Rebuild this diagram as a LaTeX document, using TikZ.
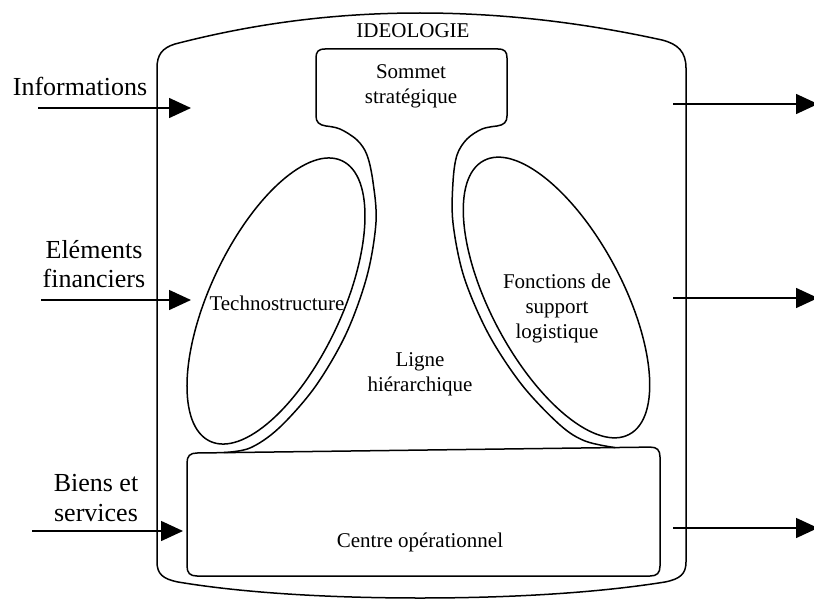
\documentclass[tikz,border=0pt]{standalone}
\usepackage{fontspec}
\setmainfont{Liberation Serif}
\usetikzlibrary{arrows.meta}
\begin{document}
\begin{tikzpicture}[x=1pt,y=-1pt,
  outline/.style={line width=1.5pt, line join=round, line cap=round},
  flow/.style={line width=1.5pt, -{Triangle[length=22pt,width=20pt]}},
  intext/.style={font=\fontsize{21}{25}\selectfont, align=center, inner sep=0pt},
  outtext/.style={font=\fontsize{26}{29.5}\selectfont, align=center, inner sep=0pt}]
\useasboundingbox (0,0) rectangle (814,602);
\clip (0,0) rectangle (814,602);

% organisation boundary (ideology)
\draw[outline] (157,562) -- (157,68)
  .. controls (157,55) and (162,48) .. (175,44)
  .. controls (260,22) and (340,13) .. (420,13)
  .. controls (500,13) and (580,22) .. (662,40)
  .. controls (678,44) and (686,52) .. (686,68)
  -- (686,562)
  .. controls (686,574) and (680,579) .. (665,582)
  .. controls (590,594) and (500,598) .. (420,598)
  .. controls (340,598) and (250,594) .. (178,582)
  .. controls (163,579) and (157,574) .. (157,562) -- cycle;

% operating core
\draw[outline] (420,576) -- (197,576)
  .. controls (190,576) and (187,573) .. (187,566)
  -- (187,463) .. controls (187,456) and (190,453) .. (197,453)
  -- (650,447.1) .. controls (657,447) and (660,450) .. (660,457)
  -- (660,566) .. controls (660,573) and (657,576) .. (650,576) -- cycle;

% strategic apex and middle line, wrapping round both staff units
\draw[outline]
  plot[smooth, tension=0.55] coordinates {(224,452.5) (250,448) (279,428)
    (315,387) (346,334) (367,276) (376,222) (373,182) (367,155) (357,140)
    (340,129) (326,126)}
  .. controls (319,125) and (316,122) .. (316,116)
  -- (316,58) .. controls (316,52) and (318,49) .. (325,49)
  -- (498,49) .. controls (505,49) and (507,52) .. (507,58)
  -- (507,116) .. controls (507,122) and (504,125) .. (497,126)
  -- plot[smooth, tension=0.55] coordinates {(497,126) (482,129) (467,139)
    (457,155) (453,182) (453,223) (464,277) (488.5,334) (522,385) (560,425)
    (585,441) (615,447.6)};

% staff units
\coordinate (techC) at (276,301);
\coordinate (suppC) at (556.5,297.5);
\draw[outline, rotate around={64.8:(techC)}] (techC) ellipse [x radius=155, y radius=66];
\draw[outline, rotate around={-62:(suppC)}] (suppC) ellipse [x radius=155, y radius=66];

% labels
\node[intext] (ideo) at (413,30.5) {IDEOLOGIE};
\node[intext] (apex) at (411,86) {Sommet\\stratégique};
\node[intext] (techno) at (277,303) {Technostructure};
\node[intext] (support) at (557,308) {Fonctions de\\support\\logistique};
\node[intext] (ligne) at (420,374) {Ligne\\hiérarchique};
\node[intext] (core) at (420,542) {Centre opérationnel};

\node[outtext] (info) at (80,86) {Informations};
\node[outtext] (fin) at (94,264) {Eléments\\financiers};
\node[outtext] (biens) at (96,498) {Biens et\\services};

% inputs
\coordinate (inA) at (38,108);  \coordinate (inAend) at (191,108);
\coordinate (inB) at (41,300);  \coordinate (inBend) at (191,300);
\coordinate (inC) at (32,531);  \coordinate (inCend) at (183,531);
\draw[flow] (inA) -- (inAend);
\draw[flow] (inB) -- (inBend);
\draw[flow] (inC) -- (inCend);

% outputs
\coordinate (outA) at (673,104); \coordinate (outAend) at (818,104);
\coordinate (outB) at (673,298); \coordinate (outBend) at (818,298);
\coordinate (outC) at (673,528); \coordinate (outCend) at (818,528);
\draw[flow] (outA) -- (outAend);
\draw[flow] (outB) -- (outBend);
\draw[flow] (outC) -- (outCend);
\end{tikzpicture}
\end{document}
